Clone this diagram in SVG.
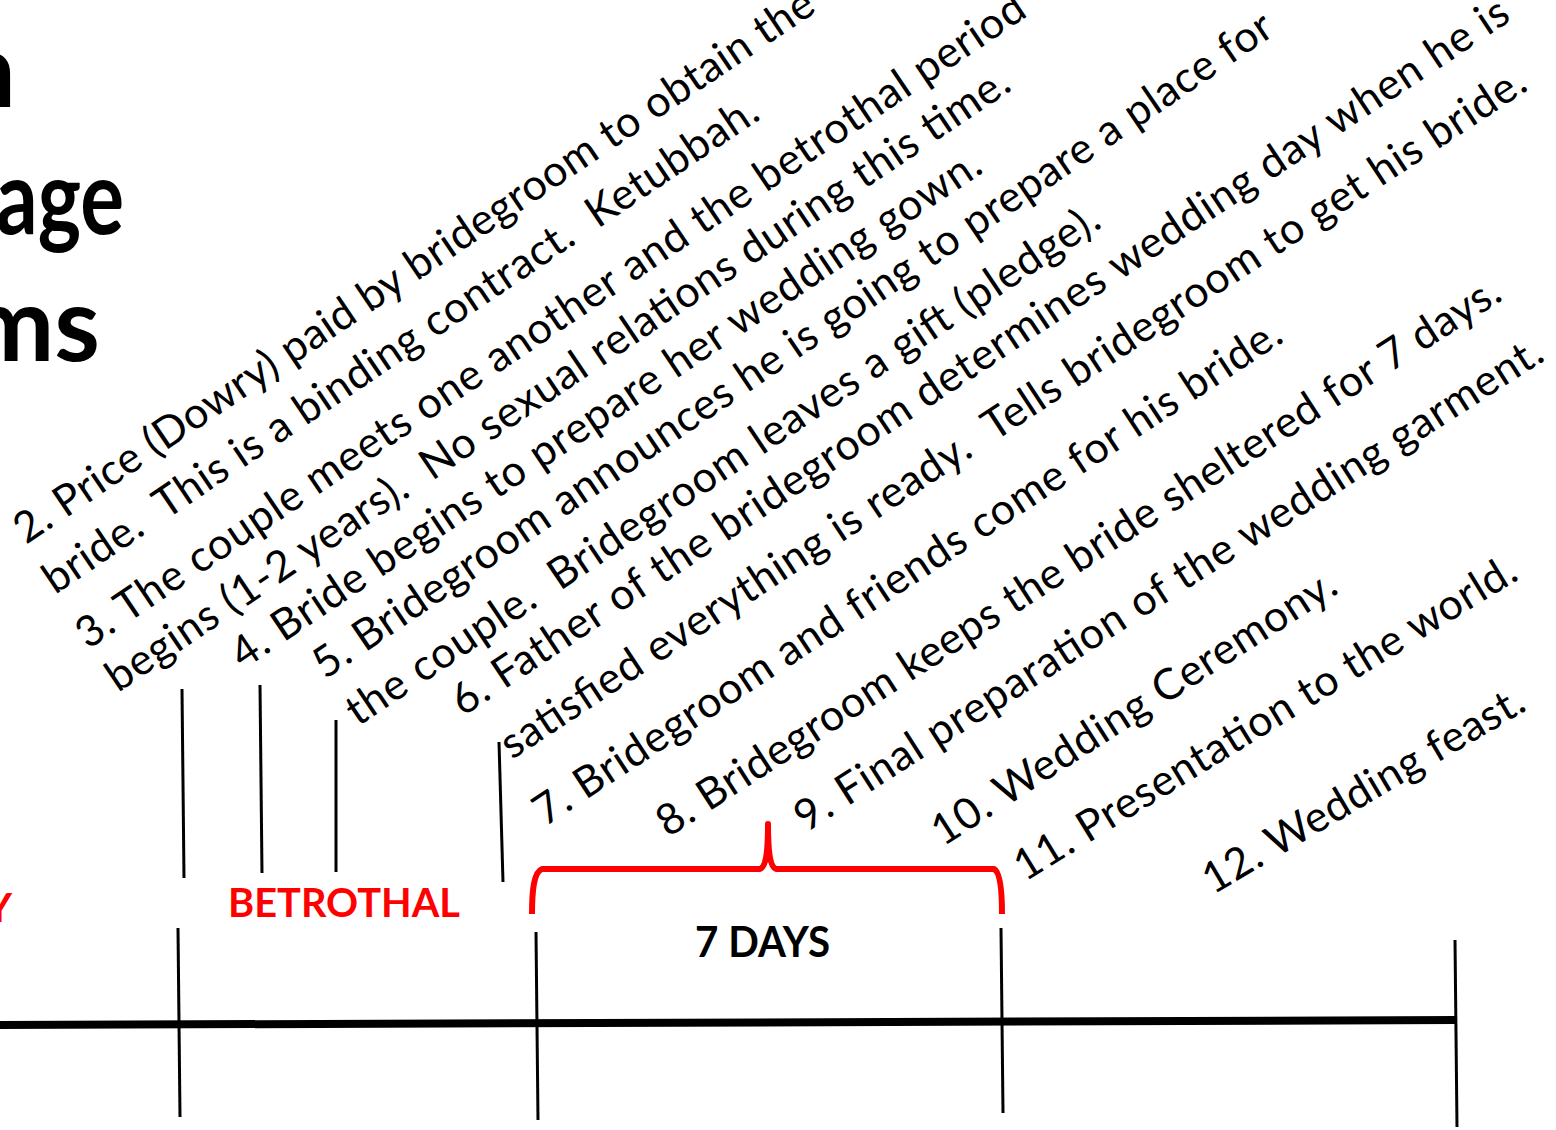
<svg xmlns="http://www.w3.org/2000/svg" width="1556" height="1130" viewBox="0 0 1556 1130" xml:space="preserve">
<style>
.t{font-family:Lato,"Open Sans","Liberation Sans",sans-serif;font-size:43px;fill:#000;white-space:pre}
.title{font-family:Lato,"Liberation Sans",sans-serif;font-weight:700;font-size:104px;fill:#000}
.lbl{font-family:Lato,"Liberation Sans",sans-serif;font-weight:700;font-size:41px}
.red{fill:#ff0000}
.blk{fill:#000}
.tick{stroke:#000;stroke-width:3;fill:none}
.axis{stroke:#000;stroke-width:8;fill:none}
.brace{stroke:#ff0000;stroke-width:6;fill:none;stroke-linejoin:round}
</style>
<rect width="1556" height="1130" fill="#fff"/>
<g id="title">
<text class="title" x="16" y="107" text-anchor="end">n</text>
<text class="title" x="-4" y="234" textLength="128" lengthAdjust="spacingAndGlyphs">age</text>
<text class="title" x="100" y="361" text-anchor="end">ms</text>
</g>
<g id="connectors">
<line class="axis" x1="0" y1="1025" x2="1457" y2="1020"/>
<line class="tick" x1="178" y1="928" x2="180" y2="1117"/>
<line class="tick" x1="536" y1="932" x2="538" y2="1120"/>
<line class="tick" x1="1001" y1="928" x2="1003" y2="1113"/>
<line class="tick" x1="1455" y1="940" x2="1457" y2="1127"/>
<line class="tick" x1="182" y1="689" x2="184" y2="878"/>
<line class="tick" x1="260" y1="685" x2="262" y2="873"/>
<line class="tick" x1="336" y1="720" x2="336" y2="872"/>
<line class="tick" x1="499" y1="742" x2="503" y2="882"/>
<path class="brace" d="M532,914 C532,890 534,872 542,869 L760,869 C766,867 768,850 768,824 C768,850 770,867 776,869 L994,869 C1000,872 1002,890 1002,914"/>
</g>
<g id="label-dowry"><text class="lbl red" x="12" y="922" text-anchor="end">Y</text></g>
<g id="label-betrothal"><text class="lbl red" x="228" y="917" textLength="232" lengthAdjust="spacingAndGlyphs">BETROTHAL</text></g>
<g id="label-7days"><text class="lbl blk" x="695" y="957" textLength="135" lengthAdjust="spacingAndGlyphs" style="font-size:42px">7 DAYS</text></g>
<g id="item-2">
<text class="t" transform="translate(26,545) rotate(-34)" textLength="955">2. Price (Dowry) paid by bridegroom to obtain the</text>
<text class="t" transform="translate(55,595) rotate(-34)" textLength="853">bride.  This is a binding contract.  Ketubbah.</text>
</g>
<g id="item-3">
<text class="t" transform="translate(88,650) rotate(-34)" textLength="1135">3. The couple meets one another and the betrothal period</text>
<text class="t" transform="translate(118,693) rotate(-34)" textLength="1080">begins (1-2 years).  No sexual relations during this time.</text>
</g>
<g id="item-4">
<text class="t" transform="translate(243,670) rotate(-33.9)" textLength="894">4. Bride begins to prepare her wedding gown.</text>
</g>
<g id="item-5">
<text class="t" transform="translate(325,680) rotate(-34.2)" textLength="1150">5. Bridegroom announces he is going to prepare a place for</text>
<text class="t" transform="translate(358,727) rotate(-33.9)" textLength="898">the couple.  Bridegroom leaves a gift (pledge).</text>
</g>
<g id="item-6">
<text class="t" transform="translate(463,717) rotate(-33.6)" textLength="1260">6. Father of the bridegroom determines wedding day when he is</text>
<text class="t" transform="translate(512,760) rotate(-33.4)" textLength="1219">satisfied everything is ready.  Tells bridegroom to get his bride.</text>
</g>
<g id="item-7"><text class="t" transform="translate(545,827) rotate(-33.3)" textLength="886">7. Bridegroom and friends come for his bride.</text></g>
<g id="item-8"><text class="t" transform="translate(668,838) rotate(-32.8)" textLength="995">8. Bridegroom keeps the bride sheltered for 7 days.</text></g>
<g id="item-9"><text class="t" transform="translate(806,833) rotate(-32.6)" textLength="879">9. Final preparation of the wedding garment.</text></g>
<g id="item-10"><text class="t" transform="translate(943,847) rotate(-32.7)" textLength="472">10. Wedding Ceremony.</text></g>
<g id="item-11"><text class="t" transform="translate(1025,882) rotate(-31.5)" textLength="581">11. Presentation to the world.</text></g>
<g id="item-12"><text class="t" transform="translate(1213,895) rotate(-30.5)" textLength="366">12. Wedding feast.</text></g>
</svg>
